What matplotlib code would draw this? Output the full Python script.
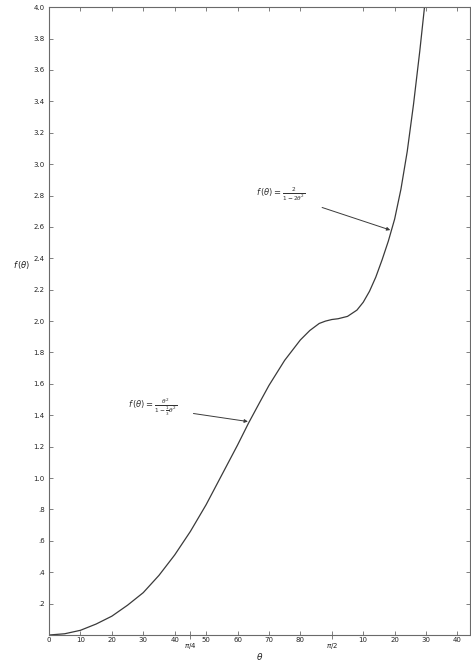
import matplotlib.pyplot as plt

# curve values (theta in degrees)
theta_deg = [0, 5, 10, 15, 20, 25, 30, 35, 40, 45, 50, 55, 60, 63.5, 67, 70,
             75, 80, 83, 86, 88, 90, 92, 95, 98, 100, 102, 104, 106, 108,
             110, 112, 114, 116, 118, 119.5]
f_theta = [0, 0.008, 0.03, 0.07, 0.12, 0.19, 0.27, 0.38, 0.51, 0.66, 0.83,
           1.02, 1.21, 1.35, 1.48, 1.59, 1.75, 1.88, 1.94, 1.985, 2.0, 2.01,
           2.015, 2.03, 2.07, 2.12, 2.19, 2.28, 2.39, 2.51, 2.65, 2.84, 3.08,
           3.38, 3.72, 4.0]

x_ticks = [0, 10, 20, 30, 40, 50, 60, 70, 80, 100, 110, 120, 130]
x_tick_labels = ['0', '10', '20', '30', '40', '50', '60', '70', '80',
                 '10', '20', '30', '40']
x_special = [45, 90]
x_special_labels = [r'$\pi/4$', r'$\pi/2$']

y_ticks = [0.2, 0.4, 0.6, 0.8, 1.0, 1.2, 1.4, 1.6, 1.8, 2.0,
           2.2, 2.4, 2.6, 2.8, 3.0, 3.2, 3.4, 3.6, 3.8, 4.0]
y_tick_labels = ['.2', '.4', '.6', '.8', '1.0', '1.2', '1.4', '1.6', '1.8',
                 '2.0', '2.2', '2.4', '2.6', '2.8', '3.0', '3.2', '3.4',
                 '3.6', '3.8', '4.0']

ink = '#3a3a3a'
axc = '#6a6a6a'

fig = plt.figure(figsize=(4.71, 6.63), dpi=100)
ax = fig.add_axes([0.104, 0.0422, 0.894, 0.947])

ax.plot(theta_deg, f_theta, color=ink, lw=0.9)

ax.set_xlim(0, 134)
ax.set_ylim(0, 4.0)

for s in ax.spines.values():
    s.set_color(axc)
    s.set_linewidth(0.8)

ax.set_xticks(x_ticks)
ax.set_xticklabels(x_tick_labels)
ax.set_xticks(x_special, minor=True)
ax.set_xticklabels(x_special_labels, minor=True)
ax.set_yticks(y_ticks)
ax.set_yticklabels(y_tick_labels)

ax.tick_params(axis='both', which='major', direction='in', length=3,
               width=0.6, color=axc, labelsize=5, labelcolor='#222222',
               top=True, right=True)
ax.tick_params(axis='x', which='major', pad=1.5)
ax.tick_params(axis='y', which='major', pad=3)
ax.tick_params(axis='x', which='minor', direction='inout', length=6,
               width=0.6, color=axc, labelsize=5, labelcolor='#222222',
               pad=1.5)

fig.text(260 / 471, 1 - 656 / 663, r'$\theta$', fontsize=6.5,
         color='#222222', ha='center', va='center')
ax.text(-0.065, 0.59, r'$f\,(\theta)$', transform=ax.transAxes,
        fontsize=6, color='#222222', ha='center', va='center')

# formula labels with arrows pointing to the curve
ax.annotate(r'$f\,(\theta)=\frac{\theta^2}{1-\frac{1}{3}\theta^2}$',
            xy=(63.3, 1.36), xytext=(25, 1.45),
            fontsize=6, color='#333333', va='center',
            arrowprops=dict(arrowstyle='-|>', color=ink, lw=0.7,
                            mutation_scale=5, shrinkA=10, shrinkB=0))
ax.annotate(r'$f\,(\theta)=\frac{2}{1-2\theta^2}$',
            xy=(108.6, 2.58), xytext=(66, 2.81),
            fontsize=6, color='#333333', va='center',
            arrowprops=dict(arrowstyle='-|>', color=ink, lw=0.7,
                            mutation_scale=5, shrinkA=10, shrinkB=0))

fig.savefig('out.png', dpi=100)
